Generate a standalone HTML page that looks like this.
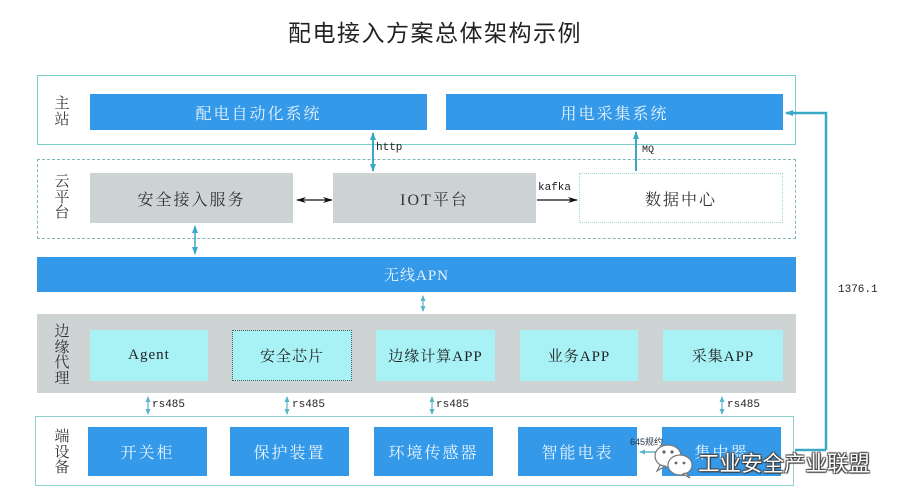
<!DOCTYPE html>
<html><head><meta charset="utf-8">
<style>
html,body{margin:0;padding:0;background:#fff;}
body{width:904px;height:504px;position:relative;overflow:hidden;font-family:"Liberation Serif","Noto Serif CJK SC",serif;}
.a{position:absolute;box-sizing:border-box;}
.c{display:flex;align-items:center;justify-content:center;white-space:nowrap;}
.blue{background:#3399E8;color:#EAF5FF;font-size:16px;letter-spacing:2px;}
.gray{background:#CDD2D4;color:#333;font-size:16px;letter-spacing:2px;}
.cyan{background:#A8F2F6;color:#222;font-size:15px;letter-spacing:1px;}
.side{position:absolute;width:18px;font-size:15px;line-height:15.5px;color:#333;text-align:center;font-family:"Noto Serif CJK SC",serif;}
.mono{position:absolute;font-family:"Liberation Mono",monospace;font-size:11px;color:#222;}
</style></head><body>

<div class="a" style="left:280px;top:14px;width:310px;text-align:center;font-family:'Liberation Sans','Noto Sans CJK SC',sans-serif;font-size:23px;letter-spacing:1.5px;color:#222;">配电接入方案总体架构示例</div>

<!-- 主站 -->
<div class="a" style="left:37px;top:75px;width:759px;height:70px;border:1.5px solid #7ACFC8;"></div>
<div class="side" style="left:53px;top:95px;">主<br>站</div>
<div class="a c blue" style="left:90px;top:94px;width:337px;height:36px;">配电自动化系统</div>
<div class="a c blue" style="left:446px;top:94px;width:337px;height:36px;">用电采集系统</div>

<!-- 云平台 -->
<div class="a" style="left:37px;top:159px;width:759px;height:80px;border:1px dashed #7FB8B8;"></div>
<div class="side" style="left:53px;top:173px;">云<br>平<br>台</div>
<div class="a c gray" style="left:90px;top:173px;width:203px;height:50px;">安全接入服务</div>
<div class="a c gray" style="left:333px;top:173px;width:203px;height:50px;">IOT平台</div>
<div class="a c" style="left:579px;top:173px;width:204px;height:50px;border:1px dotted #9ED8D8;background:#fff;color:#333;font-size:16px;letter-spacing:2px;">数据中心</div>

<!-- APN -->
<div class="a c blue" style="left:37px;top:257px;width:759px;height:35px;font-size:15px;letter-spacing:1px;">无线APN</div>

<!-- 边缘代理 -->
<div class="a" style="left:37px;top:314px;width:759px;height:79px;background:#CED3D4;"></div>
<div class="side" style="left:53px;top:323px;">边<br>缘<br>代<br>理</div>
<div class="a c cyan" style="left:90px;top:330px;width:118px;height:51px;">Agent</div>
<div class="a c cyan" style="left:232px;top:330px;width:120px;height:51px;border:1px dotted #555;">安全芯片</div>
<div class="a c cyan" style="left:376px;top:330px;width:119px;height:51px;">边缘计算APP</div>
<div class="a c cyan" style="left:520px;top:330px;width:118px;height:51px;">业务APP</div>
<div class="a c cyan" style="left:663px;top:330px;width:120px;height:51px;">采集APP</div>

<!-- 端设备 -->
<div class="a" style="left:35px;top:416px;width:759px;height:70px;border:1.5px solid #8ED2CC;"></div>
<div class="side" style="left:53px;top:428px;">端<br>设<br>备</div>
<div class="a c blue" style="left:88px;top:427px;width:119px;height:49px;">开关柜</div>
<div class="a c blue" style="left:230px;top:427px;width:119px;height:49px;">保护装置</div>
<div class="a c blue" style="left:374px;top:427px;width:119px;height:49px;">环境传感器</div>
<div class="a c blue" style="left:518px;top:427px;width:119px;height:49px;">智能电表</div>
<div class="a c blue" style="left:662px;top:427px;width:119px;height:49px;">集中器</div>

<!-- labels -->
<div class="mono" style="left:376px;top:142px;">http</div>
<div class="mono" style="left:642px;top:145px;font-size:10px;">MQ</div>
<div class="mono" style="left:538px;top:182px;">kafka</div>
<div class="mono" style="left:838px;top:284px;font-size:11px;">1376.1</div>
<div class="mono" style="left:152px;top:399px;">rs485</div>
<div class="mono" style="left:292px;top:399px;">rs485</div>
<div class="mono" style="left:436px;top:399px;">rs485</div>
<div class="mono" style="left:727px;top:399px;">rs485</div>
<div class="a" style="left:630px;top:435px;font-size:9px;color:#234;font-family:'Liberation Sans','Noto Sans CJK SC',sans-serif;">645规约</div>

<svg class="a" style="left:0;top:0;" width="904" height="504" viewBox="0 0 904 504">
<defs>
<marker id="t" markerWidth="8" markerHeight="8" refX="7" refY="4" orient="auto-start-reverse" markerUnits="userSpaceOnUse"><path d="M0,1 L8,4 L0,7 Z" fill="#3AA9C6"/></marker>
<marker id="k" markerWidth="10" markerHeight="8" refX="9" refY="4" orient="auto-start-reverse" markerUnits="userSpaceOnUse"><path d="M0,1 L10,4 L0,7 L3,4 Z" fill="#111"/></marker>
<marker id="s" markerWidth="6" markerHeight="6" refX="5" refY="3" orient="auto-start-reverse" markerUnits="userSpaceOnUse"><path d="M0,0.5 L6,3 L0,5.5 Z" fill="#5AB5C8"/></marker>
</defs>
<g stroke="#3AA9C6" stroke-width="2" fill="none">
<line x1="373" y1="133" x2="373" y2="171" marker-start="url(#t)" marker-end="url(#t)"/>
<line x1="636" y1="171" x2="636" y2="132" marker-end="url(#t)"/>
<line x1="195" y1="226" x2="195" y2="254" stroke-width="1.5" marker-start="url(#t)" marker-end="url(#t)"/>
<polyline points="826,450 826,113 786,113" marker-end="url(#t)" stroke-width="2.5"/>
<line x1="826" y1="450" x2="795" y2="450" stroke-width="2.5"/>
</g>
<g stroke="#5AB5C8" stroke-width="1.2" fill="none">
<line x1="423" y1="296" x2="423" y2="311" marker-start="url(#s)" marker-end="url(#s)"/>
<line x1="148" y1="397" x2="148" y2="414" marker-start="url(#s)" marker-end="url(#s)"/>
<line x1="287" y1="397" x2="287" y2="414" marker-start="url(#s)" marker-end="url(#s)"/>
<line x1="432" y1="397" x2="432" y2="414" marker-start="url(#s)" marker-end="url(#s)"/>
<line x1="722" y1="397" x2="722" y2="414" marker-start="url(#s)" marker-end="url(#s)"/>
<line x1="661" y1="452" x2="640" y2="452" stroke-width="1.5" marker-end="url(#s)"/>
</g>
<g stroke="#111" stroke-width="1.3">
<line x1="297" y1="200" x2="332" y2="200" marker-start="url(#k)" marker-end="url(#k)"/>
<line x1="537" y1="200" x2="577" y2="200" marker-end="url(#k)"/>
</g>
<!-- wechat icon -->
<g stroke="#777" stroke-width="1.2" fill="#fff">
<ellipse cx="668" cy="456" rx="13" ry="11"/>
<path d="M660,465 L657,471 L665,466 Z"/>
<ellipse cx="680" cy="465" rx="12" ry="10"/>
<path d="M686,473 L690,478 L683,474 Z"/>
</g>
<g fill="#666"><circle cx="664" cy="452" r="1.6"/><circle cx="672" cy="452" r="1.6"/><circle cx="676" cy="463" r="1.4"/><circle cx="684" cy="463" r="1.4"/></g>
</svg>

<div class="a" style="left:698px;top:447px;font-family:'Liberation Sans','Noto Sans CJK SC',sans-serif;font-size:21.5px;color:#fff;white-space:nowrap;text-shadow:0 0 1px #333,1px 1px 1px #333,-1px -1px 1px #555,1px -1px 1px #555,-1px 1px 1px #555;">工业安全产业联盟</div>

</body></html>
